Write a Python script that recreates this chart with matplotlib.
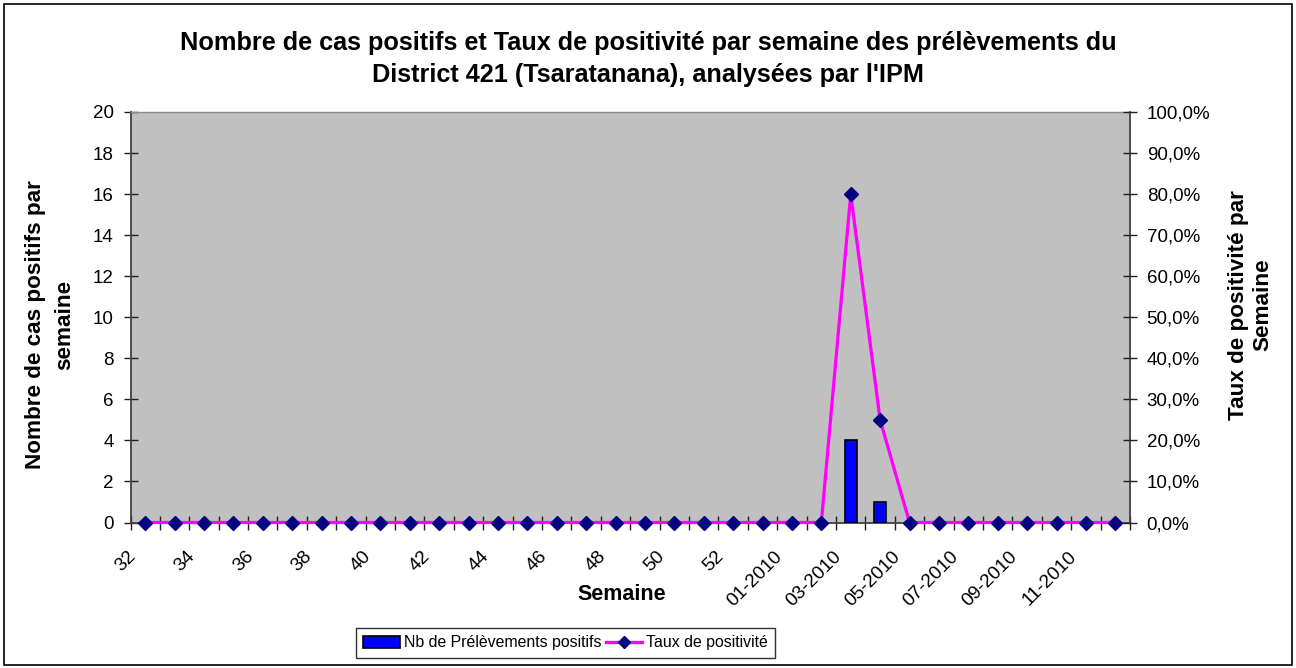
import matplotlib
matplotlib.use("Agg")
import matplotlib.pyplot as plt
import numpy as np
from matplotlib.patches import Patch, Rectangle
from matplotlib.lines import Line2D
from matplotlib.ticker import FuncFormatter, MultipleLocator
from matplotlib.transforms import ScaledTranslation

plt.rcParams['font.family'] = ['Liberation Sans', 'DejaVu Sans']

weeks = [str(w) for w in range(32, 54)] + ["%02d-2010" % m for m in range(1, 13)]
positifs = [0] * 24 + [4, 1] + [0] * 8
taux = [0.0] * 24 + [0.80, 0.25] + [0.0] * 8

title = ("Nombre de cas positifs et Taux de positivité par semaine des prélèvements du\n"
         "District 421 (Tsaratanana), analysées par l'IPM")

W, H = 1296, 668
fig = plt.figure(figsize=(W / 100, H / 100), dpi=100)
fig.patch.set_facecolor('white')
fig.add_artist(Rectangle((3.5 / W, 3.5 / H), 1 - 8 / W, 1 - 8 / H, transform=fig.transFigure,
                         fill=False, edgecolor='black', linewidth=1.2))

left, right, top, bottom = 130.5, 1130, 112, 522.5
ax = fig.add_axes([left / W, 1 - bottom / H, (right - left) / W, (bottom - top) / H])
ax.set_facecolor('#C0C0C0')

x = np.arange(len(weeks))
bars = ax.bar(x, positifs, width=0.4, color='#0000FF', edgecolor='black', linewidth=1.2, zorder=3)
for b, v in zip(bars, positifs):
    if v == 0:
        b.set_visible(False)

ax.set_xlim(-0.5, len(weeks) - 0.5)
ax.set_ylim(0, 20)
ax.yaxis.set_major_locator(MultipleLocator(2))
ax.set_xticks(np.arange(-0.5, len(weeks), 1))
ax.set_xticklabels([])
ax.set_xticks(x[::2], minor=True)
ax.set_xticklabels([weeks[i] for i in x[::2]], minor=True, rotation=45, ha='right',
                   va='center', rotation_mode='anchor', fontsize=13.8)
ax.tick_params(axis='x', which='minor', length=0, pad=0)
off = ScaledTranslation(-12 / 100, -31.5 / 100, fig.dpi_scale_trans)
for lab in ax.get_xticklabels(minor=True):
    lab.set_transform(lab.get_transform() + off)
ax.tick_params(axis='x', which='major', direction='inout', length=10, width=1.0, color='#202020')
ax.tick_params(axis='y', direction='inout', length=10, width=1.0, labelsize=13.5,
               color='#202020', pad=7)

for s in ['left', 'bottom', 'right']:
    ax.spines[s].set_color('#404040')
    ax.spines[s].set_linewidth(1.3)
ax.spines['top'].set_color('#8a8a8a')
ax.spines['top'].set_linewidth(1.0)

ax2 = ax.twinx()
ax2.plot(x, taux, color='#FF00FF', linewidth=2.3, marker='D', markersize=7.3,
         markerfacecolor='#000080', markeredgecolor='#000080', zorder=4, clip_on=False)
ax2.set_ylim(0, 1)
ax2.yaxis.set_major_locator(MultipleLocator(0.1))
ax2.yaxis.set_major_formatter(FuncFormatter(lambda v, p: ("%.1f%%" % (v * 100)).replace('.', ',')))
ax2.tick_params(axis='y', direction='inout', length=10, width=1.0, labelsize=13.5,
                color='#202020', pad=7)
for s in ['left', 'bottom', 'right', 'top']:
    ax2.spines[s].set_visible(False)

fig.text(648 / W, 1 - 59 / H, title, ha='center', va='center', fontsize=18.2,
         fontweight='bold', linespacing=1.4)
fig.text(622 / W, 1 - 594 / H, "Semaine", ha='center', va='center', fontsize=15.5,
         fontweight='bold')
fig.text(50 / W, 1 - 325 / H, "Nombre de cas positifs par\nsemaine", ha='center', va='center',
         rotation=90, fontsize=16.2, fontweight='bold', linespacing=1.5)
fig.text(1251 / W, 1 - 305 / H, "Taux de positivité par\nSemaine", ha='center', va='center',
         rotation=90, fontsize=16.2, fontweight='bold', linespacing=1.2)

handles = [Patch(facecolor='#0000FF', edgecolor='black', linewidth=1.2),
           Line2D([], [], color='#FF00FF', linewidth=2.4, marker='D', markersize=6,
                  markerfacecolor='#000080', markeredgecolor='#000080')]
leg = fig.legend(handles, ["Nb de Prélèvements positifs", "Taux de positivité"],
                 loc='center', bbox_to_anchor=(565.5 / W, 1 - 643 / H), ncol=2, fontsize=11.4,
                 frameon=True, fancybox=False, edgecolor='black', handlelength=2.3,
                 handleheight=0.8, handletextpad=0.25, columnspacing=0.3, borderpad=0.45,
                 borderaxespad=0)
leg.get_frame().set_linewidth(1.0)

fig.savefig("out.png", dpi=100)
